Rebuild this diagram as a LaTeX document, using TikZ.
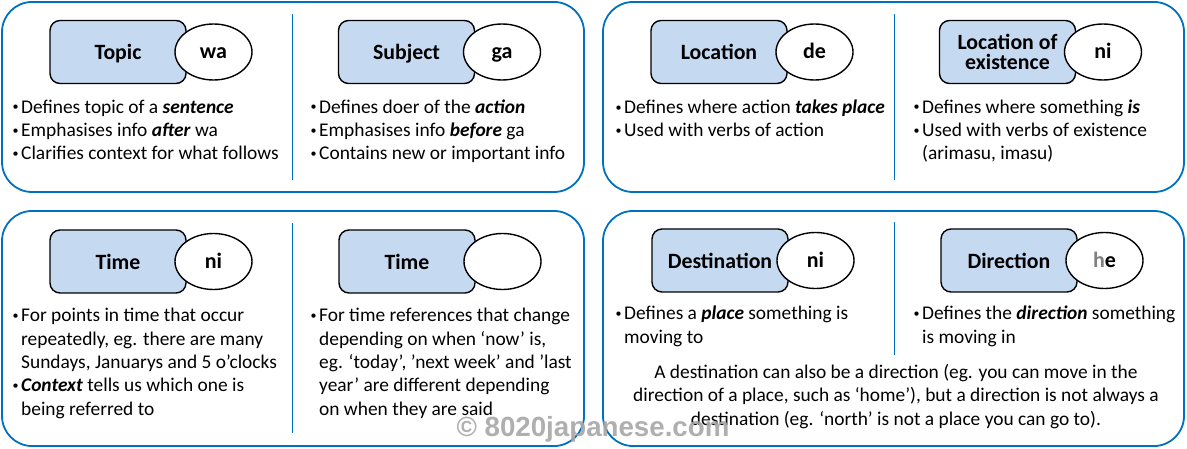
\documentclass[tikz,border=0pt]{standalone}
\usepackage{fontspec}
\setmainfont{Carlito}
\newfontfamily\markfont{Liberation Sans}
\usetikzlibrary{positioning,shapes.geometric}

\definecolor{panelblue}{RGB}{0,112,192}
\definecolor{boxfill}{RGB}{197,217,241}
\newcommand{\bul}{\makebox[10pt][l]{\hspace{1.5pt}\raisebox{0.13em}{\scalebox{0.62}{\textbullet}}}}
\newcommand{\ind}{\hspace*{10pt}}
\newcommand{\bi}[1]{\textbf{\textit{#1}}}

\begin{document}
\begin{tikzpicture}[x=1pt,y=-1pt,
  every node/.style={font=\fontsize{19.4}{23.3}\selectfont},
  panel/.style={draw=panelblue,line width=1.8pt,rounded corners=30pt},
  divider/.style={draw=panelblue,line width=0.9pt},
  pbox/.style={draw=black,line width=1.4pt,fill=boxfill,rounded corners=10pt,
    minimum width=136pt,minimum height=63pt,inner sep=0pt,outer sep=0pt,align=center,
    font=\fontsize{21.8}{20.5}\selectfont\bfseries},
  particle/.style={pbox,text height=17.8pt,text depth=1.8pt},
  marker/.style={ellipse,draw=black,line width=1.4pt,fill=white,
    minimum width=77pt,minimum height=56pt,inner sep=0pt,outer sep=0pt,
    text height=15pt,text depth=1pt,font=\fontsize{22}{22}\selectfont\bfseries},
  % multi-line nodes: base is the last line
  bullets/.style={anchor=base west,align=left,inner sep=0pt}]
  \useasboundingbox (0,0) rectangle (1187,449);
  % panels and dividers
  \foreach \xa/\ya/\xb/\yb in {2/2/584/192,603/2/1184/192,2/211/584/446,603/211/1184/446}
    \draw[panel] (\xa,\ya) rectangle (\xb,\yb);
  \foreach \xa/\ya/\yb in {292/14/180,894/14/180,292/223/433,894/222/355}
    \draw[divider] (\xa,\ya) -- (\xa,\yb);
  % top left
  \node[particle] (topic) at (118,52) {Topic};
  \node[marker,right=-11pt of topic] (wa) {wa};
  \node[particle] (subject) at (406.5,52) {Subject};
  \node[marker,right=-11pt of subject] (ga) {ga};
  \node[bullets] (topicnotes) at (11,160) {\bul Defines topic of a \bi{sentence}\\
    \bul Emphasises info \bi{after} wa\\
    \bul Clarifies context for what follows};
  \node[bullets] (subjectnotes) at (309,160) {\bul Defines doer of the \bi{action}\\
    \bul Emphasises info \bi{before} ga\\
    \bul Contains new or important info};
  % top right
  \node[particle] (location) at (719,52) {Location};
  \node[marker,right=-11pt of location] (de) {de};
  \node[pbox] (existence) at (1007.5,52) {Location of\\existence};
  \node[marker,right=-11pt of existence] (niexist) {ni};
  \node[bullets] (locationnotes) at (614,137) {\bul Defines where action \bi{takes place}\\
    \bul Used with verbs of action};
  \node[bullets] (existencenotes) at (912,160) {\bul Defines where something \bi{is}\\
    \bul Used with verbs of existence\\
    \ind (arimasu, imasu)};
  % bottom left
  \node[particle] (time) at (118,261.5) {Time};
  \node[marker,right=-11pt of time] (nitime) {ni};
  \node[particle] (reltime) at (407,261.5) {Time};
  \node[marker,right=-11pt of reltime] (none) {};
  \node[bullets] (timenotes) at (11,415) {\bul For points in time that occur\\
    \ind repeatedly, eg. there are many\\
    \ind Sundays, Januarys and 5 o’clocks\\
    \bul \bi{Context} tells us which one is\\
    \ind being referred to};
  \node[bullets] (reltimenotes) at (309,415) {\bul For time references that change\\
    \ind depending on when ‘now’ is,\\
    \ind eg. ‘today’, ’next week’ and ’last\\
    \ind year’ are different depending\\
    \ind on when they are said};
  % bottom right
  \node[particle] (destination) at (720,260.5) {Destination};
  \node[marker,right=-11pt of destination] (nidest) {ni};
  \node[particle] (direction) at (1009,260.5) {Direction};
  \node[marker,right=-11pt of direction] (he) {{\color{gray}h}e};
  \node[bullets] (destnotes) at (614,343) {\bul Defines a \bi{place} something is\\
    \ind moving to};
  \node[bullets] (dirnotes) at (912,343) {\bul Defines the \bi{direction} something\\
    \ind is moving in};
  \node[anchor=base,align=center,inner sep=0pt] (remark) at (896,425)
    {A destination can also be a direction (eg. you can move in the\\
    direction of a place, such as ‘home’), but a direction is not always a\\
    destination (eg. ‘north’ is not a place you can go to).};
  \node[anchor=base,inner sep=0pt,text=black!35,opacity=0.9,
    font=\fontsize{27.7}{28}\selectfont\markfont\bfseries] (watermark) at (593,436) {© 8020japanese.com};
\end{tikzpicture}
\end{document}
